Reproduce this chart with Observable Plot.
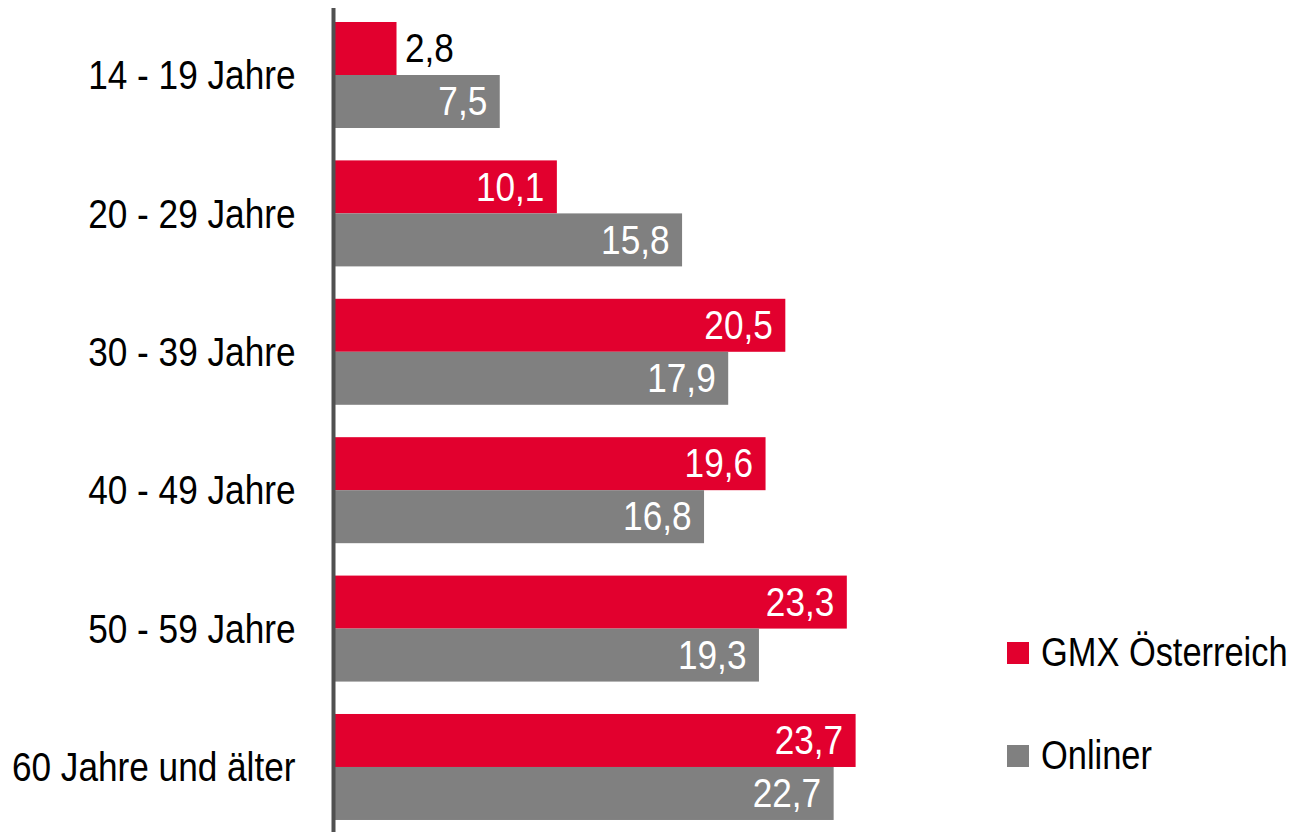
<!DOCTYPE html>
<html>
<head>
<meta charset="utf-8">
<script src="https://cdn.jsdelivr.net/npm/d3@7"></script>
<script src="https://cdn.jsdelivr.net/npm/@observablehq/plot@0.6"></script>
<style>
  html, body { margin: 0; padding: 0; background: #fff; }
  #wrap { position: relative; width: 1294px; height: 832px; font-family: "Liberation Sans", Arial, sans-serif; }
  #wrap svg { display: block; }
  #legend { position: absolute; left: 1007px; top: 627px; font-size: 40px; color: #000; white-space: nowrap; }
  .item { display: flex; align-items: center; height: 51px; margin-bottom: 52px; }
  .sw { width: 22px; height: 22px; margin-right: 12px; flex: none; }
  .lab { display: inline-block; transform: scaleX(0.86); transform-origin: left center; }
</style>
</head>
<body>
<div id="wrap"><div id="legend"></div></div>
<script>
const categories = ["14 - 19 Jahre", "20 - 29 Jahre", "30 - 39 Jahre", "40 - 49 Jahre", "50 - 59 Jahre", "60 Jahre und älter"];
const seriesNames = ["GMX Österreich", "Onliner"];
const seriesColors = ["#e2002e", "#808080"];
const gmx = [2.8, 10.1, 20.5, 19.6, 23.3, 23.7];
const onliner = [7.5, 15.8, 17.9, 16.8, 19.3, 22.7];

const fmt = v => v.toFixed(1).replace(".", ",");
const rows = categories.map((c, i) => ({cat: c, gmx: gmx[i], onl: onliner[i]}));
const inside = rows.filter(d => d.gmx >= 5);
const outside = rows.filter(d => d.gmx < 5);

const font = '"Liberation Sans", Arial, sans-serif';

const chart = Plot.plot({
  width: 1294,
  height: 832,
  marginLeft: 335,
  marginRight: 300,
  marginTop: 8,
  marginBottom: 0,
  style: {fontFamily: font, fontSize: "40px", background: "#fff"},
  x: {domain: [0, 30], axis: null},
  y: {domain: categories, paddingInner: 0.2341, paddingOuter: 0.094, align: 0.538, round: false, label: null},
  marks: [
    Plot.barX(rows, {y: "cat", x: "gmx", fill: seriesColors[0], insetBottom: 53}),
    Plot.barX(rows, {y: "cat", x: "onl", fill: seriesColors[1], insetTop: 53}),
    Plot.text(inside, {y: "cat", x: "gmx", text: d => fmt(d.gmx), dy: -26, textAnchor: "end", dx: -13, fill: "#fff", fontSize: 40}),
    Plot.text(outside, {y: "cat", x: "gmx", text: d => fmt(d.gmx), dy: -26, textAnchor: "start", dx: 8, fill: "#000", fontSize: 40}),
    Plot.text(rows, {y: "cat", x: "onl", text: d => fmt(d.onl), dy: 27, textAnchor: "end", dx: -13, fill: "#fff", fontSize: 40}),
    Plot.ruleX([0], {stroke: "#505050", strokeWidth: 4, dx: -2}),
    Plot.axisY({tickSize: 0, tickPadding: 40, fontSize: 40, fill: "#000", dy: 1})
  ]
});
document.getElementById("wrap").prepend(chart);

// narrow the glyphs horizontally around each text's anchor point (Arial Narrow look)
const squeeze = 0.88;
chart.querySelectorAll("text").forEach(el => {
  const b = el.getBBox();
  const a = getComputedStyle(el).textAnchor;
  const x0 = a === "end" ? b.x + b.width : a === "middle" ? b.x + b.width / 2 : b.x;
  const t = el.getAttribute("transform") || "";
  el.setAttribute("transform", `${t} translate(${x0},0) scale(${squeeze},1) translate(${-x0},0)`);
});

const legend = document.getElementById("legend");
seriesNames.forEach((n, i) => {
  const d = document.createElement("div");
  d.className = "item";
  d.innerHTML = `<span class="sw" style="background:${seriesColors[i]}"></span><span class="lab">${n}</span>`;
  legend.appendChild(d);
});
</script>
</body>
</html>
